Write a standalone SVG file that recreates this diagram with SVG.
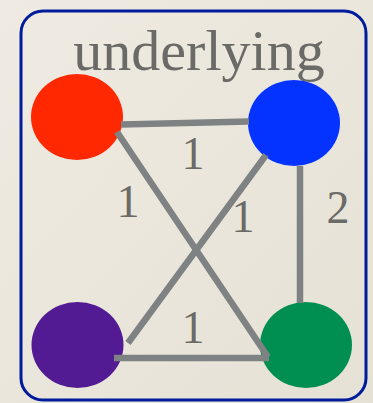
<svg xmlns="http://www.w3.org/2000/svg" width="373" height="403" viewBox="0 0 373 403">
<defs>
<linearGradient id="bg" x1="0" y1="0" x2="1" y2="1">
<stop offset="0" stop-color="#efebe2"/>
<stop offset="1" stop-color="#e6e1d5"/>
</linearGradient>
</defs>
<style>
.edge{stroke:#7e8283;stroke-width:6.5;fill:none;stroke-linecap:butt}
.lbl{font-family:"Liberation Serif","Times New Roman",serif;fill:#6b6a66;text-anchor:middle}
</style>
<rect width="373" height="403" fill="url(#bg)"/>
<rect id="frame" x="21" y="11" width="345" height="389" rx="22" fill="none" stroke="#001b9b" stroke-width="3"/>
<text class="lbl" x="199" y="70" font-size="58">underlying</text>
<g id="node-red"><ellipse cx="77" cy="117" rx="46" ry="43" fill="#ff2800"/></g>
<g id="node-blue"><ellipse cx="294" cy="123" rx="46" ry="43" fill="#0433ff"/></g>
<g id="node-purple"><ellipse cx="77.5" cy="345" rx="46" ry="43" fill="#531b93"/></g>
<g id="node-green"><ellipse cx="306" cy="345" rx="46" ry="43" fill="#008f51"/></g>
<g id="connectors">
<line class="edge" x1="121" y1="124.5" x2="249" y2="121.5"/>
<line class="edge" x1="117" y1="132" x2="268" y2="357"/>
<line class="edge" x1="266" y1="155" x2="128" y2="343"/>
<line class="edge" x1="300" y1="166" x2="300" y2="303"/>
<line class="edge" x1="114" y1="358" x2="269" y2="358"/>
</g>
<g id="labels">
<text class="lbl" x="193" y="169" font-size="46">1</text>
<text class="lbl" x="128" y="217" font-size="46">1</text>
<text class="lbl" x="243" y="232" font-size="46">1</text>
<text class="lbl" x="338" y="223" font-size="46">2</text>
<text class="lbl" x="193" y="343" font-size="46">1</text>
</g>
</svg>
